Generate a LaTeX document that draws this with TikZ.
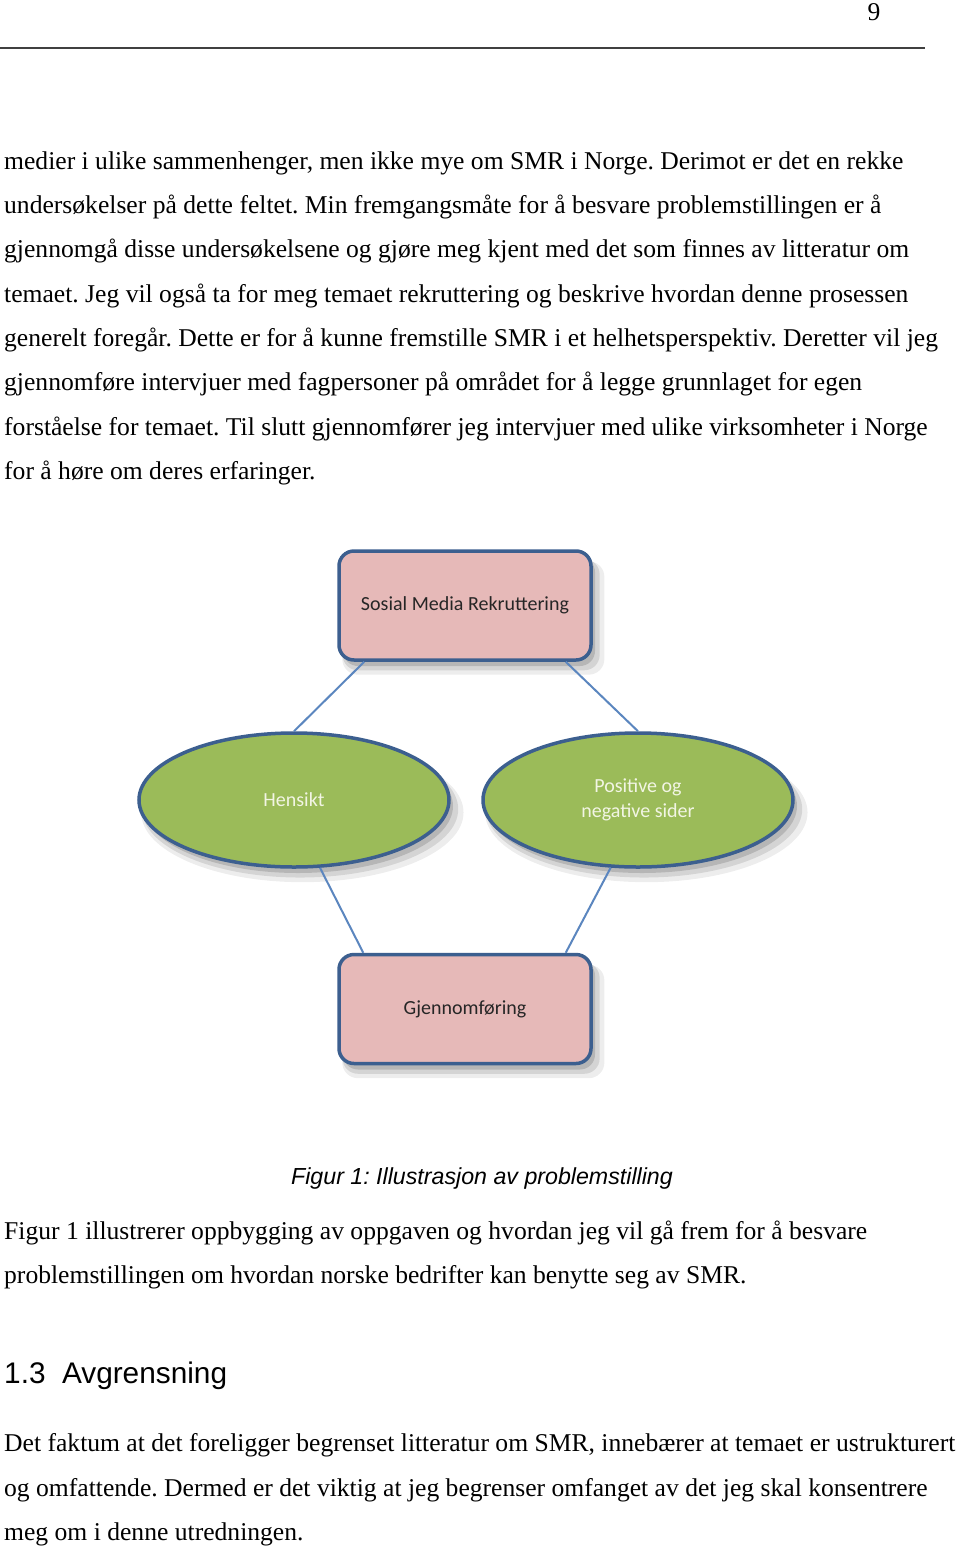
\documentclass[tikz,border=0pt]{standalone}
\usepackage{fontspec}
\setmainfont{Liberation Serif}
\newfontfamily\calib{Carlito}
\newfontfamily\arialf{Liberation Sans}
\usetikzlibrary{shapes.geometric,shadows,calc}
\definecolor{boxpink}{HTML}{E6B9B8}
\definecolor{leafgreen}{HTML}{9BBB59}
\definecolor{edgeblue}{HTML}{3C5F8F}
\definecolor{linkblue}{HTML}{5B86BF}
\definecolor{lighttext}{HTML}{F2F5E4}
\definecolor{darktext}{HTML}{262626}
\frenchspacing
\tikzset{
  body/.style={font=\fontsize{25.6}{30}\selectfont, anchor=base west, inner sep=0pt, text=black},
  softshadow/.style={
    drop shadow={shadow xshift=4pt, shadow yshift=-6pt, opacity=0.14, fill=black},
    drop shadow={shadow xshift=6pt, shadow yshift=-9pt, shadow scale=1.02, opacity=0.10, fill=black},
    drop shadow={shadow xshift=8pt, shadow yshift=-12pt, shadow scale=1.04, opacity=0.07, fill=black}},
  pinkbox/.style={rectangle, rounded corners=15pt, draw=edgeblue, line width=3.5pt, fill=boxpink,
    minimum width=252pt, minimum height=109pt, inner sep=0pt, softshadow,
    font=\calib\fontsize{20}{24}\selectfont, text=darktext},
  greenoval/.style={ellipse, draw=edgeblue, line width=3.5pt, fill=leafgreen,
    minimum width=310pt, minimum height=134pt, inner sep=0pt, softshadow,
    font=\calib\fontsize{20}{25}\selectfont, text=lighttext, align=center},
  link/.style={draw=linkblue, line width=2pt}
}
\begin{document}
\begin{tikzpicture}[x=1pt,y=-1pt]
\useasboundingbox[fill=white] (0,0) rectangle (960,1547);
% header
\node[body, anchor=base] (pg) at (874,20) {9};
\coordinate (ruleL) at (0,48);
\coordinate (ruleR) at (925,48);
\draw[line width=1.3pt, black!75] (ruleL) -- (ruleR);
% first paragraph
\node[body] (l1) at (4,169) {medier i ulike sammenhenger, men ikke mye om SMR i Norge. Derimot er det en rekke};
\node[body] (l2) at (4,213) {undersøkelser på dette feltet. Min fremgangsmåte for å besvare problemstillingen er å};
\node[body] (l3) at (4,257) {gjennomgå disse undersøkelsene og gjøre meg kjent med det som finnes av litteratur om};
\node[body] (l4) at (4,302) {temaet. Jeg vil også ta for meg temaet rekruttering og beskrive hvordan denne prosessen};
\node[body] (l5) at (4,346) {generelt foregår. Dette er for å kunne fremstille SMR i et helhetsperspektiv. Deretter vil jeg};
\node[body] (l6) at (4,390) {gjennomføre intervjuer med fagpersoner på området for å legge grunnlaget for egen};
\node[body] (l7) at (4,435) {forståelse for temaet. Til slutt gjennomfører jeg intervjuer med ulike virksomheter i Norge};
\node[body] (l8) at (4,479) {for å høre om deres erfaringer.};
% diagram
\node[pinkbox] (smr) at (465,605.5) {Sosial Media Rekruttering};
\node[greenoval] (hens) at (294,800) {Hensikt};
\node[greenoval] (pos) at (638,800) {Positive og\\negative sider};
\node[pinkbox] (gjen) at (465,1009) {Gjennomføring};
\draw[link] ($(smr.south west)+(27,0)$) -- (hens.north);
\draw[link] ($(smr.south east)+(-27,0)$) -- (pos.north);
\draw[link] (hens.-69) -- ($(gjen.north west)+(26,0)$);
\draw[link] (pos.-112) -- ($(gjen.north east)+(-27,0)$);
% caption
\node[font=\arialf\itshape\fontsize{23.2}{28}\selectfont, anchor=base, inner sep=0pt] (cap) at (482,1184) {Figur 1: Illustrasjon av problemstilling};
% second paragraph
\node[body] (m1) at (4,1239) {Figur 1 illustrerer oppbygging av oppgaven og hvordan jeg vil gå frem for å besvare};
\node[body] (m2) at (4,1283) {problemstillingen om hvordan norske bedrifter kan benytte seg av SMR.};
% heading
\node[font=\arialf\fontsize{29.8}{35}\selectfont, anchor=base west, inner sep=0pt] (head) at (4,1383) {1.3\hspace{0.55em}Avgrensning};
% third paragraph
\node[body] (n1) at (4,1451) {Det faktum at det foreligger begrenset litteratur om SMR, innebærer at temaet er ustrukturert};
\node[body] (n2) at (4,1496) {og omfattende. Dermed er det viktig at jeg begrenser omfanget av det jeg skal konsentrere};
\node[body] (n3) at (4,1540) {meg om i denne utredningen.};
\end{tikzpicture}
\end{document}
